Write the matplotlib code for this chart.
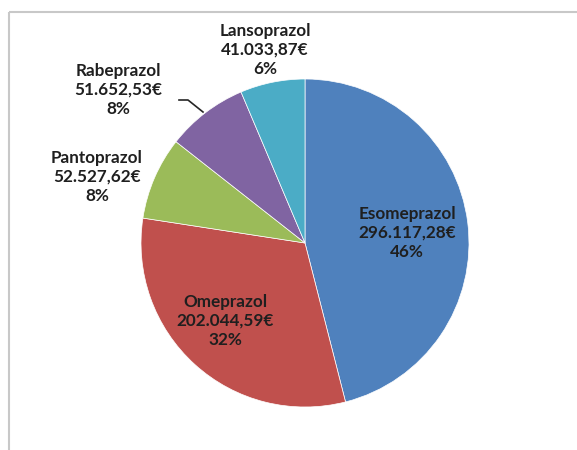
import matplotlib
matplotlib.use("Agg")
import matplotlib.pyplot as plt

# Data
drugs = ["Esomeprazol", "Omeprazol", "Pantoprazol", "Rabeprazol", "Lansoprazol"]
costs = [296117.28, 202044.59, 52527.62, 51652.53, 41033.87]
cost_labels = ["296.117,28€", "202.044,59€", "52.527,62€", "51.652,53€", "41.033,87€"]
pct_labels = ["46%", "32%", "8%", "8%", "6%"]
colors = ["#4F81BD", "#C0504D", "#9BBB59", "#8064A2", "#4BACC6"]

W, H = 577, 450
fig = plt.figure(figsize=(W / 100, H / 100), dpi=100)
ax = fig.add_axes([0, 0, 1, 1])
ax.set_xlim(0, W)
ax.set_ylim(0, H)
ax.set_aspect("equal")
ax.axis("off")

cx, cy, r = 305, H - 243, 164
ax.pie(costs, colors=colors, startangle=90, counterclock=False,
       center=(cx, cy), radius=r, frame=False,
       wedgeprops=dict(linewidth=0.5, edgecolor="white"))
ax.set_xlim(0, W)
ax.set_ylim(0, H)

# frame lines
ax.plot([9, 9], [H - 12, 0], color="#c8c8c8", lw=1.5, solid_capstyle="butt")
ax.plot([9, W], [H - 12, H - 12], color="#c8c8c8", lw=1.5, solid_capstyle="butt")

label_pos = [(407, 233), (225, 321), (97, 177), (118, 90), (265, 50)]
for name, c, p, (lx, ly) in zip(drugs, cost_labels, pct_labels, label_pos):
    ax.text(lx, H - ly, f"{name}\n{c}\n{p}", ha="center", va="center",
            multialignment="center", fontsize=12.3, fontweight="bold",
            family="Lato", color="#1f1f1f", linespacing=1.22)

# leader line for Rabeprazol
ax.plot([179, 188, 203], [H - 100, H - 100, H - 112], color="#262626", lw=1.2)

fig.savefig("out.png", dpi=100)
